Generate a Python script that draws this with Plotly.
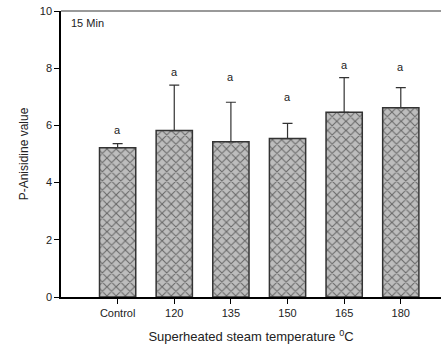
import plotly.graph_objects as go

categories = ["Control", "120", "135", "150", "165", "180"]
means = [5.22, 5.82, 5.43, 5.54, 6.46, 6.62]
err_plus = [0.14, 1.59, 1.38, 0.53, 1.21, 0.70]
letters = ["a", "a", "a", "a", "a", "a"]
letter_y = [5.84, 7.87, 7.69, 6.99, 8.11, 8.04]
y_ticks = [0, 2, 4, 6, 8, 10]

xpos = list(range(len(categories)))

fig = go.Figure()
fig.add_trace(go.Bar(
    x=xpos, y=means, width=0.64,
    marker=dict(color="#c0c0c0",
                line=dict(color="#333333", width=1.5),
                pattern=dict(shape="x", fgcolor="#111111", bgcolor="#bdbdbd",
                             size=6.5, solidity=0.3)),
    error_y=dict(type="data", symmetric=False, array=err_plus,
                 arrayminus=[0] * len(means), color="#333333",
                 thickness=1.2, width=5),
    showlegend=False,
))

for x, y, t in zip(xpos, letter_y, letters):
    fig.add_annotation(x=x, y=y, text=t, showarrow=False,
                       font=dict(size=11, color="#222222", family="Arial"))

fig.add_annotation(x=0.02, y=0.985, xref="paper", yref="paper", text="15 Min",
                   showarrow=False, xanchor="left", yanchor="top",
                   font=dict(size=11, color="#222222", family="Arial"))

# top border line (gray)
fig.add_shape(type="line", xref="paper", yref="paper", x0=0, x1=1, y0=1, y1=1,
              line=dict(color="#777777", width=1.5))

fig.update_layout(
    width=445, height=350,
    margin=dict(l=61, r=4, t=11, b=53),
    paper_bgcolor="white", plot_bgcolor="white",
    font=dict(family="Arial", color="#222222", size=11),
    bargap=0.36,
)
fig.update_xaxes(
    range=[-1.0, 5.71], tickmode="array", tickvals=xpos, ticktext=categories,
    showline=True, linecolor="#000000", linewidth=1.5,
    ticks="outside", ticklen=5, tickcolor="#000000", showgrid=False, zeroline=False,
    title=dict(text="Superheated steam temperature <sup>0</sup>C", font=dict(size=13), standoff=14),
)
fig.update_yaxes(
    range=[0, 10], tickvals=y_ticks,
    showline=True, linecolor="#000000", linewidth=1.5,
    ticks="outside", ticklen=5, tickcolor="#000000", showgrid=False, zeroline=False,
    title=dict(text="P-Anisidine value", font=dict(size=12), standoff=9),
)

fig.write_html("out.html")
